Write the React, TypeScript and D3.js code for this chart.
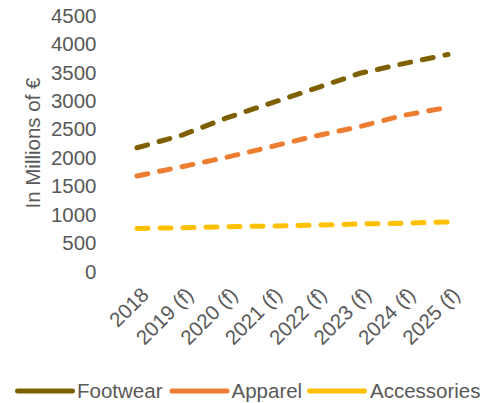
import React from "react";
import * as d3 from "d3";

const categories = ["2018", "2019 (f)", "2020 (f)", "2021 (f)", "2022 (f)", "2023 (f)", "2024 (f)", "2025 (f)"];
const footwear = [2175, 2395, 2695, 2955, 3215, 3480, 3655, 3815];
const apparel = [1680, 1840, 2005, 2190, 2380, 2545, 2745, 2885];
const accessories = [755, 770, 785, 800, 815, 835, 850, 870];
const yTicks = [0, 500, 1000, 1500, 2000, 2500, 3000, 3500, 4000, 4500];

const seriesList = [
  { name: "Footwear", values: footwear, color: "#7f6000" },
  { name: "Apparel", values: apparel, color: "#ed7d31" },
  { name: "Accessories", values: accessories, color: "#ffc000" },
];

const W = 497;
const H = 403;
const FONT = "'Liberation Sans', Arial, sans-serif";
const TEXT = "#595959";
const FS = 20.5;

export default function App() {
  const x = d3.scaleBand<string>().domain(categories).range([114.8, 470.2]);
  const cx = (c: string) => (x(c) ?? 0) + x.bandwidth() / 2;
  const y = d3.scaleLinear().domain([0, 4500]).range([271.5, 15.5]);

  const line = d3
    .line<number>()
    .x((_, i) => cx(categories[i]))
    .y((v) => y(v));

  // legend layout
  const legendY = 391;
  const legendItems = [
    { lx: 17.5, tx: 77 },
    { lx: 172, tx: 231.5 },
    { lx: 309.5, tx: 370 },
  ];

  return (
    <svg
      width={W}
      height={H}
      style={{ position: "absolute", left: 0, top: 0, background: "#fff" }}
      fontFamily={FONT}
    >
      {/* y axis tick labels */}
      {yTicks.map((t) => (
        <text
          key={t}
          x={96.5}
          y={y(t)}
          dy="0.35em"
          textAnchor="end"
          fontSize={FS}
          fill={TEXT}
        >
          {t}
        </text>
      ))}

      {/* y axis title */}
      <text
        transform={`translate(39.5, 143) rotate(-90)`}
        textAnchor="middle"
        fontSize={FS}
        fill={TEXT}
      >
        In Millions of €
      </text>

      {/* x axis labels */}
      {categories.map((c) => (
        <text
          key={c}
          transform={`translate(${cx(c) + 8}, 291) rotate(-45)`}
          textAnchor="end"
          dy="0.35em"
          fontSize={FS}
          fill={TEXT}
        >
          {c}
        </text>
      ))}

      {/* series lines */}
      {seriesList.map((s) => (
        <path
          key={s.name}
          d={line(s.values) ?? ""}
          fill="none"
          stroke={s.color}
          strokeWidth={5}
          strokeLinecap="round"
          strokeDasharray="11 12"
        />
      ))}

      {/* legend */}
      {seriesList.map((s, i) => (
        <g key={s.name}>
          <line
            x1={legendItems[i].lx}
            x2={legendItems[i].lx + 55}
            y1={legendY}
            y2={legendY}
            stroke={s.color}
            strokeWidth={5}
            strokeLinecap="round"
          />
          <text
            x={legendItems[i].tx}
            y={legendY}
            dy="0.35em"
            fontSize={FS}
            fill={TEXT}
          >
            {s.name}
          </text>
        </g>
      ))}
    </svg>
  );
}
